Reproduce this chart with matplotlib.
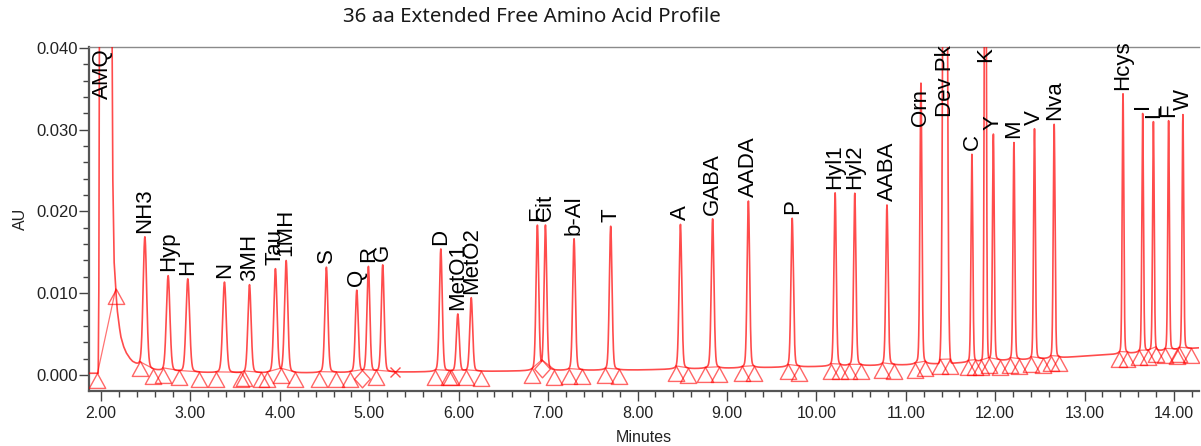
import numpy as np
import matplotlib
matplotlib.use("Agg")
import matplotlib.pyplot as plt
from matplotlib.path import Path
from matplotlib.ticker import MultipleLocator, FormatStrFormatter

title = "36 aa Extended Free Amino Acid Profile"

# ---- data -----------------------------------------------------------------
# reagent (AMQ) peak and drifting baseline of the trace (minutes, AU)
base_t = [1.865, 1.968, 1.975, 1.983, 2.01, 2.115, 2.13, 2.145, 2.164, 2.18,
          2.20, 2.22, 2.25, 2.28, 2.32, 2.35, 2.39, 2.43, 2.48, 2.54, 2.62,
          2.72, 3.0, 3.5, 4.0, 5.0, 6.0, 7.0, 8.0, 9.0, 10.0, 11.0, 11.5,
          12.0, 12.5, 13.0, 13.5, 14.0, 14.28]
base_y = [0.0002, 0.0002, 0.010, 0.050, 0.15, 0.060, 0.025, 0.014, 0.0105,
          0.0080, 0.0062, 0.0047, 0.0035, 0.0027, 0.0020, 0.0016, 0.0013,
          0.0011, 0.0008, 0.0006, 0.0005, 0.0004, 0.0003, 0.0002, 0.0002,
          0.0003, 0.0004, 0.0005, 0.0006, 0.0008, 0.0010, 0.0012, 0.0014,
          0.0017, 0.0019, 0.0023, 0.0026, 0.0030, 0.0033]

amq_name = "AMQ"
amq_rt = 2.02
amq_start = 1.96
amq_end = 2.164

peak_names = ["NH3", "Hyp", "H", "N", "3MH", "Tau", "1MH", "S", "Q", "R", "G",
              "D", "MetO1", "MetO2", "E", "Cit", "b-Al", "T", "A", "GABA",
              "AADA", "P", "Hyl1", "Hyl2", "AABA", "Orn", "Dev Pk", "C", "K",
              "Y", "M", "V", "Nva", "Hcys", "I", "L", "F", "W"]
peak_rt = [2.49, 2.75, 2.97, 3.38, 3.66, 3.95, 4.07, 4.52, 4.86, 4.99, 5.15,
           5.80, 5.99, 6.14, 6.88, 6.97, 7.29, 7.70, 8.48, 8.84, 9.24, 9.73,
           10.21, 10.43, 10.79, 11.17, 11.44, 11.74, 11.89, 11.98, 12.21,
           12.44, 12.66, 13.43, 13.65, 13.77, 13.94, 14.10]
peak_height = [0.0161, 0.0117, 0.0114, 0.0111, 0.0108, 0.0127, 0.0137,
               0.0129, 0.0100, 0.0129, 0.0131, 0.0150, 0.0070, 0.0090,
               0.0177, 0.0177, 0.0161, 0.0176, 0.0177, 0.0183, 0.0204,
               0.0182, 0.0212, 0.0211, 0.0196, 0.0344, 0.1350, 0.0254,
               0.0800, 0.0277, 0.0266, 0.0282, 0.0286, 0.0318, 0.0292,
               0.0281, 0.0281, 0.0287]
peak_width = [0.020, 0.020, 0.020, 0.020, 0.018, 0.018, 0.018, 0.017, 0.016,
              0.016, 0.016, 0.016, 0.016, 0.016, 0.015, 0.015, 0.015, 0.015,
              0.015, 0.015, 0.014, 0.014, 0.013, 0.013, 0.013, 0.011, 0.018,
              0.010, 0.010, 0.010, 0.010, 0.010, 0.010, 0.009, 0.009, 0.009,
              0.009, 0.009]
peak_tailing = [0.18] * 26 + [0.0, 0.12, 0.03] + [0.15] * 9
peak_start = [2.43, 2.69, 2.87, 3.28, 3.60, 3.86, 4.01, 4.44, 4.78, 4.92,
              5.08, 5.74, 5.91, 6.08, 6.82, 6.93, 7.23, 7.64, 8.43, 8.76,
              9.17, 9.68, 10.16, 10.36, 10.74, 11.10, 11.38, 11.70, 11.84,
              11.93, 12.17, 12.40, 12.62, 13.39, 13.61, 13.71, 13.90, 14.06]
peak_end = [2.58, 2.87, 3.10, 3.56, 3.79, 4.01, 4.17, 4.63, 4.92, 5.08, 5.29,
            5.89, 6.08, 6.25, 6.93, 7.07, 7.38, 7.79, 8.56, 8.91, 9.30, 9.81,
            10.27, 10.50, 10.87, 11.22, 11.50, 11.78, 11.93, 12.05, 12.27,
            12.53, 12.71, 13.48, 13.71, 13.80, 14.03, 14.19]
valley_points = [4.92, 6.93]   # diamond markers
cross_points = [5.29]          # x marker

# label anchor levels for off-scale / shifted labels (AU)
label_override = {"AMQ": 0.0332, "Orn": 0.0299, "Dev Pk": 0.0310, "K": 0.0378}

x_range = (1.865, 14.28)
y_range = (-0.00196, 0.0401)

# ---- build trace ----------------------------------------------------------
t = np.linspace(x_range[0], x_range[1], 30000)
trace = np.interp(t, base_t, base_y)
for rt, h, s, eta in zip(peak_rt, peak_height, peak_width, peak_tailing):
    g = np.exp(-0.5 * ((t - rt) / s) ** 2)
    gam = 1.1774 * s
    lor = 1.0 / (1.0 + ((t - rt) / gam) ** 2)
    trace += h * ((1 - eta) * g + eta * lor)


def at(x):
    return float(np.interp(x, t, trace))


# ---- figure -----------------------------------------------------------------
plt.rcParams["font.family"] = ["Liberation Sans", "DejaVu Sans"]
fig = plt.figure(figsize=(12.01, 4.46), dpi=100)
ax = fig.add_axes([89 / 1201, 55 / 446, 1110 / 1201, 344 / 446])

red = "#ff0000"
ax.plot(t, trace, color=red, lw=1.2, alpha=0.7, zorder=3)

# integration markers
tri = Path([(0, 0), (-0.55, -1), (0.55, -1), (0, 0)],
           [Path.MOVETO, Path.LINETO, Path.LINETO, Path.CLOSEPOLY])
dia = Path([(0, 0), (-0.45, -0.5), (0, -1), (0.45, -0.5), (0, 0)],
           [Path.MOVETO, Path.LINETO, Path.LINETO, Path.LINETO, Path.CLOSEPOLY])

starts = [amq_start] + peak_start
ends = [amq_end] + peak_end
for s0, e0 in zip(starts, ends):
    ax.plot([s0, e0], [at(s0), at(e0)], color=red, lw=0.9, alpha=0.55,
            zorder=2)

tri_pts = sorted(set(starts + ends) - set(valley_points) - set(cross_points))
ax.plot(tri_pts, [at(x) for x in tri_pts], linestyle="none", marker=tri,
        markersize=21.5, markerfacecolor="none", markeredgecolor=red,
        markeredgewidth=1.0, alpha=0.6, zorder=4)
ax.plot(valley_points, [at(x) for x in valley_points], linestyle="none",
        marker=dia, markersize=25, markerfacecolor="none",
        markeredgecolor=red, markeredgewidth=1.0, alpha=0.6, zorder=4)
ax.plot(cross_points, [at(x) for x in cross_points], linestyle="none",
        marker="x", markersize=7, markeredgecolor=red, markeredgewidth=1.0,
        alpha=0.7, zorder=4)

# peak labels
for name, rt in [(amq_name, amq_rt)] + list(zip(peak_names, peak_rt)):
    yv = label_override.get(name, at(rt))
    txt = ax.annotate(name, (rt, yv), xytext=(0, 3), textcoords="offset points",
                      rotation=90, ha="center", va="bottom", fontsize=16,
                      color="black", annotation_clip=False, zorder=5)
    txt.set_clip_on(True)

ax.set_xlim(*x_range)
ax.set_ylim(*y_range)
ax.xaxis.set_major_locator(MultipleLocator(1.0))
ax.xaxis.set_minor_locator(MultipleLocator(0.2))
ax.xaxis.set_major_formatter(FormatStrFormatter("%.2f"))
ax.yaxis.set_major_locator(MultipleLocator(0.010))
ax.yaxis.set_minor_locator(MultipleLocator(0.002))
ax.yaxis.set_major_formatter(FormatStrFormatter("%.3f"))

ax.tick_params(axis="both", which="major", direction="out", length=7,
               width=1.0, color="#444444", labelcolor="#222222")
ax.tick_params(axis="both", which="minor", direction="out", length=4,
               width=1.0, color="#444444")
ax.tick_params(axis="y", which="major", labelsize=12, pad=1)
ax.tick_params(axis="x", which="major", labelsize=11.5, pad=4)

for sp in ("left", "bottom"):
    ax.spines[sp].set_color("#555555")
    ax.spines[sp].set_linewidth(1.6)
ax.spines["top"].set_color("#8a8a8a")
ax.spines["top"].set_linewidth(1.0)
ax.spines["right"].set_visible(False)

ax.set_xlabel("Minutes", fontsize=11.5, labelpad=6, color="#222222")
ax.set_ylabel("AU", fontsize=11.5, labelpad=6, color="#222222")

fig.text(532 / 1201, 1 - 17 / 446, title, ha="center", va="center",
         fontsize=14.8, family=["Noto Sans", "DejaVu Sans"], color="#1a1a1a")

fig.savefig("out.png", dpi=100, facecolor="white")
